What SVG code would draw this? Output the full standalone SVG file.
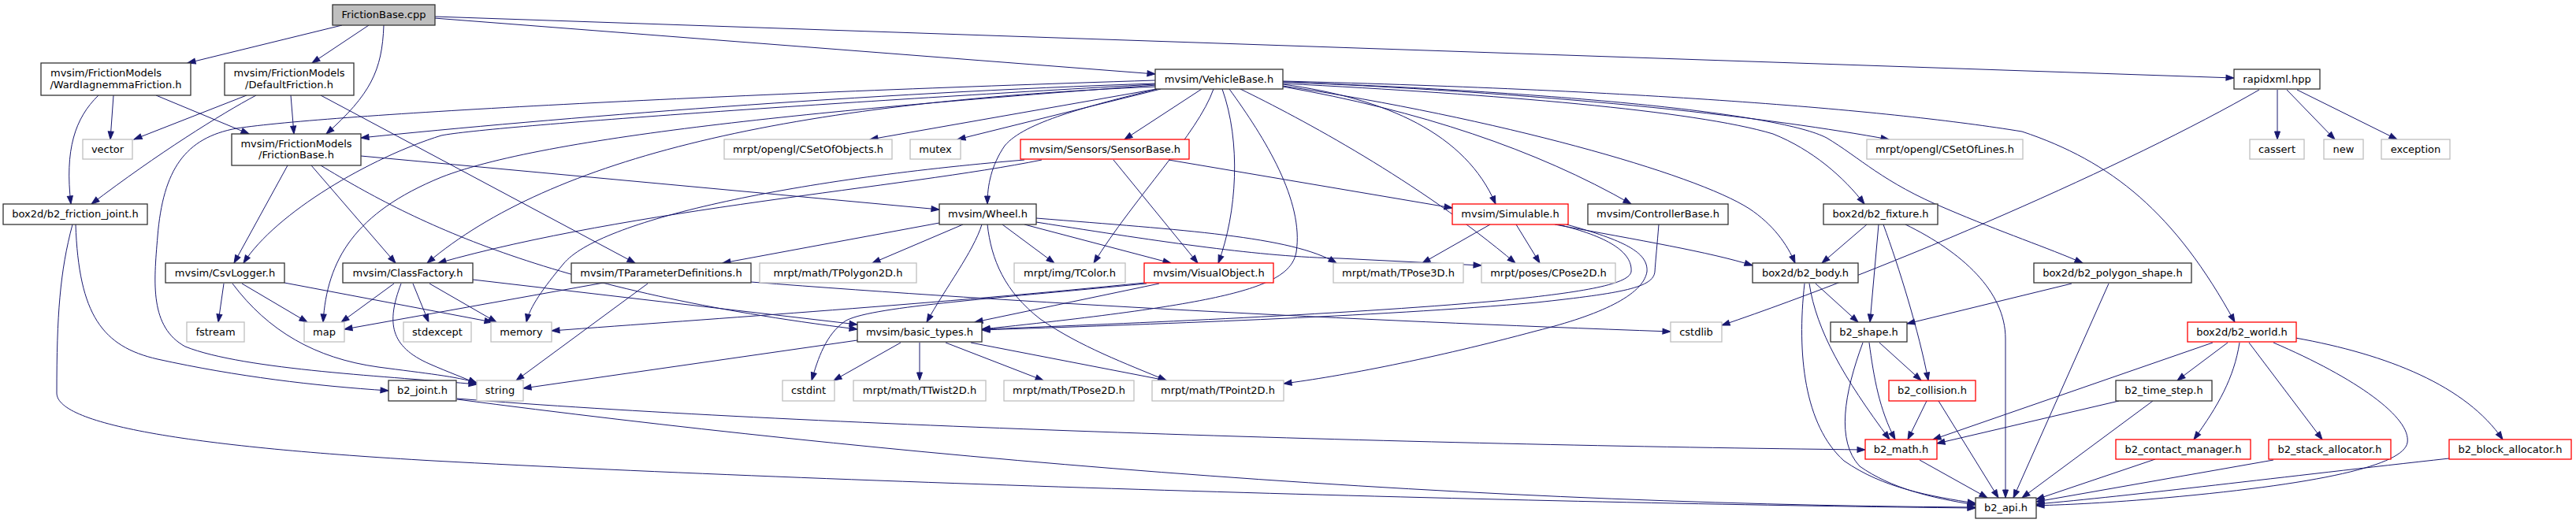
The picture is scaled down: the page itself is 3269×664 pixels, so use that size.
<svg xmlns="http://www.w3.org/2000/svg" width="3269" height="664" viewBox="0 0 3269 664">
<style>
rect{fill:#fff;stroke:#333333;stroke-width:1.3}
.g rect{stroke:#bfbfbf}
.r rect{stroke:#ff0000}
.root rect{fill:#bfbfbf;stroke:#333333}
text{font-family:"DejaVu Sans","Liberation Sans",sans-serif;font-size:13px;fill:#000;text-anchor:middle}
#edges path{fill:none;stroke:#191970;stroke-width:1;marker-end:url(#ah)}
</style>
<defs>
<marker id="ah" markerUnits="userSpaceOnUse" markerWidth="11" markerHeight="8" refX="10" refY="3.5" orient="auto" viewBox="0 0 11 8" overflow="visible">
<path d="M0,0 L10,3.5 L0,7 z" fill="#191970" stroke="#191970" stroke-width="1"/>
</marker>
</defs>
<g id="edges">
<path d="M434,32 L238,80"/>
<path d="M468,32 L396,80"/>
<path d="M487,32 C485,90 470,120 414,170"/>
<path d="M551,23 L1466,94"/>
<path d="M551,21 L2835,99"/>
<path d="M125,121 C95,150 82,190 90,259"/>
<path d="M144,121 L140,177"/>
<path d="M198,121 L316,170"/>
<path d="M313,121 L170,177"/>
<path d="M325,121 C280,145 200,195 116,259"/>
<path d="M369,121 L373,170"/>
<path d="M407,121 L806,334"/>
<path d="M365,210 L297,334"/>
<path d="M395,210 L502,334"/>
<path d="M407,210 C530,285 700,370 1088,418"/>
<path d="M458,198 L1192,266"/>
<path d="M96,285 C100,400 130,440 200,456 C300,478 400,490 493,496"/>
<path d="M92,285 C76,345 72,400 72,499 C72,540 250,568 550,585 C1100,615 2000,640 2507,645"/>
<path d="M284,360 L277,409"/>
<path d="M307,360 L390,409"/>
<path d="M361,359 L625,409"/>
<path d="M295,360 C340,420 400,455 480,466 C540,474 580,478 605,486"/>
<path d="M500,360 L433,409"/>
<path d="M524,360 L544,409"/>
<path d="M509,360 C490,410 495,440 545,462 C570,473 590,480 605,487"/>
<path d="M545,360 L630,409"/>
<path d="M600,355 L1088,412"/>
<path d="M766,359 L437,418"/>
<path d="M822,360 L655,483"/>
<path d="M953,358 C1300,385 1700,406 2120,421"/>
<path d="M1088,432 L664,493"/>
<path d="M1143,435 L1058,483"/>
<path d="M1167,435 L1167,483"/>
<path d="M1200,435 L1324,483"/>
<path d="M1232,435 L1480,483"/>
<path d="M1468,113 L1104,177"/>
<path d="M1473,113 L1215,177"/>
<path d="M1525,113 L1427,177"/>
<path d="M1468,113 C1380,135 1300,155 1275,185 C1258,210 1253,235 1253,259"/>
<path d="M1540,113 C1520,170 1440,250 1388,334"/>
<path d="M1551,113 C1575,180 1570,270 1546,334"/>
<path d="M1560,113 C1605,175 1655,255 1645,320 C1637,365 1560,385 1246,418"/>
<path d="M1977,285 C2040,300 2072,320 2070,345 C2067,362 2000,372 1900,382 C1700,400 1400,412 1246,418"/>
<path d="M2105,285 C2103,310 2101,330 2100,345 C2098,365 2060,372 1950,384 C1750,402 1450,412 1246,419"/>
<path d="M1988,285 C2060,305 2092,320 2090,345 C2085,375 2030,400 1950,420 C1820,455 1700,478 1629,487"/>
<path d="M1192,283 L917,334"/>
<path d="M1222,285 L1107,334"/>
<path d="M1246,285 C1235,320 1200,365 1176,409"/>
<path d="M1253,285 C1258,330 1275,370 1320,405 C1370,440 1430,462 1480,483"/>
<path d="M1272,285 L1338,334"/>
<path d="M1300,285 L1486,334"/>
<path d="M1315,277 C1500,292 1640,300 1696,334"/>
<path d="M1315,282 C1480,308 1600,326 1700,328 L1880,337"/>
<path d="M1300,203 C1000,228 760,280 715,335 C690,365 672,390 668,409"/>
<path d="M1322,203 C1150,238 800,265 556,334"/>
<path d="M1413,203 L1520,334"/>
<path d="M1483,203 L1843,264"/>
<path d="M1452,359 C1200,385 900,405 700,420"/>
<path d="M1455,360 C1250,380 1100,390 1072,408 C1048,425 1038,455 1030,483"/>
<path d="M1471,360 L1237,409"/>
<path d="M1466,106 C1100,118 700,150 458,175"/>
<path d="M1466,102 C900,120 420,145 300,163 C235,175 207,215 200,300 C195,360 190,415 235,440 C310,470 500,478 605,488"/>
<path d="M1466,107 C1100,127 620,160 560,172 C470,200 350,270 309,334"/>
<path d="M1468,108 C1100,135 700,170 560,225 C450,270 415,330 410,409"/>
<path d="M1467,110 C1000,130 700,200 542,334"/>
<path d="M1628,107 C1760,125 1860,170 1898,259"/>
<path d="M1628,110 C1800,140 1950,190 2070,259"/>
<path d="M1574,113 C1650,150 1800,230 1923,334"/>
<path d="M1628,109 C1900,150 2150,220 2220,265 C2250,285 2268,310 2278,334"/>
<path d="M1628,104 C2000,120 2250,150 2397,177"/>
<path d="M1628,106 C1900,120 2150,140 2250,170 C2300,190 2340,225 2366,259"/>
<path d="M1628,104 C2000,118 2260,145 2318,175 C2360,200 2390,232 2470,265 C2540,295 2600,315 2643,334"/>
<path d="M1628,103 C2100,115 2400,140 2566,167 C2680,205 2760,270 2836,409"/>
<path d="M1891,285 L1805,334"/>
<path d="M1924,285 L1954,334"/>
<path d="M1973,285 C2080,305 2170,320 2224,337"/>
<path d="M2369,285 L2312,334"/>
<path d="M2384,285 L2373,409"/>
<path d="M2390,285 C2410,340 2435,420 2447,483"/>
<path d="M2418,285 C2490,320 2545,370 2545,430 L2545,632"/>
<path d="M2304,360 L2358,409"/>
<path d="M2290,360 C2280,450 2290,540 2340,585 C2390,620 2450,630 2507,639"/>
<path d="M2296,360 C2305,420 2340,480 2398,558"/>
<path d="M2385,435 L2438,483"/>
<path d="M2364,435 C2340,500 2330,560 2360,592 C2400,620 2450,632 2507,641"/>
<path d="M2372,435 C2378,480 2385,520 2405,558"/>
<path d="M2445,509 L2421,558"/>
<path d="M2460,509 L2536,632"/>
<path d="M2436,584 L2522,632"/>
<path d="M2629,360 L2420,411"/>
<path d="M2676,360 L2555,632"/>
<path d="M2808,435 L2453,558"/>
<path d="M2827,435 L2763,483"/>
<path d="M2842,435 C2835,480 2815,515 2784,558"/>
<path d="M2854,435 L2947,558"/>
<path d="M2885,435 C2990,480 3060,530 3055,562 C3050,590 2950,615 2725,634 C2650,640 2610,641 2584,642"/>
<path d="M2913,429 C3030,450 3130,490 3176,558"/>
<path d="M2689,509 L2458,563"/>
<path d="M2732,509 L2566,632"/>
<path d="M2735,583 L2584,634"/>
<path d="M2885,584 L2584,637"/>
<path d="M3108,582 C2900,605 2700,630 2584,640"/>
<path d="M580,506 C1000,540 1800,565 2367,571"/>
<path d="M580,507 C1100,575 1800,640 2507,644"/>
<path d="M2890,114 L2890,177"/>
<path d="M2902,114 L2963,177"/>
<path d="M2915,114 L3042,177"/>
<path d="M2867,114 C2700,210 2400,340 2185,413"/>
</g>
<g id="n_root" class="root"><rect x="422" y="6" width="130" height="26"/><text x="487" y="23">FrictionBase.cpp</text></g>
<g id="n_ward"><rect x="52" y="80" width="190" height="41"/><text x="64" y="97" style="text-anchor:start">mvsim/FrictionModels</text><text x="147" y="111.5">/WardIagnemmaFriction.h</text></g>
<g id="n_default"><rect x="285" y="80" width="164" height="41"/><text x="367" y="97">mvsim/FrictionModels</text><text x="367" y="111.5">/DefaultFriction.h</text></g>
<g id="n_vector" class="g"><rect x="105" y="177" width="63" height="25"/><text x="136.5" y="193.5">vector</text></g>
<g id="n_fbase_h"><rect x="294" y="170" width="164" height="40"/><text x="376" y="186.5">mvsim/FrictionModels</text><text x="376" y="201">/FrictionBase.h</text></g>
<g id="n_fjoint"><rect x="4" y="259" width="183" height="26"/><text x="95.5" y="276">box2d/b2_friction_joint.h</text></g>
<g id="n_csv"><rect x="210" y="334" width="151" height="25"/><text x="285.5" y="350.5">mvsim/CsvLogger.h</text></g>
<g id="n_classf"><rect x="435" y="334" width="165" height="25"/><text x="517.5" y="350.5">mvsim/ClassFactory.h</text></g>
<g id="n_fstream" class="g"><rect x="237" y="409" width="73" height="25"/><text x="273.5" y="425.5">fstream</text></g>
<g id="n_map" class="g"><rect x="386" y="409" width="51" height="25"/><text x="411.5" y="425.5">map</text></g>
<g id="n_stdexcept" class="g"><rect x="512" y="409" width="86" height="25"/><text x="555" y="425.5">stdexcept</text></g>
<g id="n_b2joint"><rect x="493" y="483" width="86" height="26"/><text x="536" y="500">b2_joint.h</text></g>
<g id="n_memory" class="g"><rect x="623" y="409" width="77" height="25"/><text x="661.5" y="425.5">memory</text></g>
<g id="n_string" class="g"><rect x="605" y="483" width="59" height="26"/><text x="634.5" y="500">string</text></g>
<g id="n_tparam"><rect x="725" y="334" width="228" height="25"/><text x="839" y="350.5">mvsim/TParameterDefinitions.h</text></g>
<g id="n_tpoly" class="g"><rect x="964" y="334" width="199" height="25"/><text x="1063.5" y="350.5">mrpt/math/TPolygon2D.h</text></g>
<g id="n_cstdint" class="g"><rect x="993" y="483" width="66" height="26"/><text x="1026" y="500">cstdint</text></g>
<g id="n_basic"><rect x="1088" y="409" width="158" height="25"/><text x="1167" y="425.5">mvsim/basic_types.h</text></g>
<g id="n_ttwist" class="g"><rect x="1083" y="483" width="168" height="26"/><text x="1167" y="500">mrpt/math/TTwist2D.h</text></g>
<g id="n_tcolor" class="g"><rect x="1287" y="334" width="141" height="25"/><text x="1357.5" y="350.5">mrpt/img/TColor.h</text></g>
<g id="n_visual" class="r"><rect x="1452" y="334" width="164" height="25"/><text x="1534" y="350.5">mvsim/VisualObject.h</text></g>
<g id="n_tpose2d" class="g"><rect x="1274" y="483" width="165" height="26"/><text x="1356.5" y="500">mrpt/math/TPose2D.h</text></g>
<g id="n_tpoint2d" class="g"><rect x="1462" y="483" width="167" height="26"/><text x="1545.5" y="500">mrpt/math/TPoint2D.h</text></g>
<g id="n_csetobj" class="g"><rect x="919" y="177" width="213" height="25"/><text x="1025.5" y="193.5">mrpt/opengl/CSetOfObjects.h</text></g>
<g id="n_vehicle"><rect x="1466" y="88" width="162" height="25"/><text x="1547" y="104.5">mvsim/VehicleBase.h</text></g>
<g id="n_mutex" class="g"><rect x="1155" y="177" width="64" height="25"/><text x="1187" y="193.5">mutex</text></g>
<g id="n_sensor" class="r"><rect x="1295" y="177" width="214" height="25"/><text x="1402" y="193.5">mvsim/Sensors/SensorBase.h</text></g>
<g id="n_wheel"><rect x="1192" y="259" width="123" height="26"/><text x="1253.5" y="276">mvsim/Wheel.h</text></g>
<g id="n_simulable" class="r"><rect x="1843" y="259" width="147" height="26"/><text x="1916.5" y="276">mvsim/Simulable.h</text></g>
<g id="n_controller"><rect x="2015" y="259" width="178" height="26"/><text x="2104" y="276">mvsim/ControllerBase.h</text></g>
<g id="n_tpose3d" class="g"><rect x="1692" y="334" width="165" height="25"/><text x="1774.5" y="350.5">mrpt/math/TPose3D.h</text></g>
<g id="n_cpose2d" class="g"><rect x="1880" y="334" width="170" height="25"/><text x="1965" y="350.5">mrpt/poses/CPose2D.h</text></g>
<g id="n_cstdlib" class="g"><rect x="2120" y="409" width="65" height="25"/><text x="2152.5" y="425.5">cstdlib</text></g>
<g id="n_csetlines" class="g"><rect x="2369" y="177" width="198" height="25"/><text x="2468" y="193.5">mrpt/opengl/CSetOfLines.h</text></g>
<g id="n_fixture"><rect x="2314" y="259" width="145" height="26"/><text x="2386.5" y="276">box2d/b2_fixture.h</text></g>
<g id="n_body"><rect x="2224" y="334" width="134" height="25"/><text x="2291" y="350.5">box2d/b2_body.h</text></g>
<g id="n_polygon"><rect x="2581" y="334" width="200" height="25"/><text x="2681" y="350.5">box2d/b2_polygon_shape.h</text></g>
<g id="n_shape"><rect x="2323" y="409" width="97" height="25"/><text x="2371.5" y="425.5">b2_shape.h</text></g>
<g id="n_collision" class="r"><rect x="2397" y="483" width="110" height="26"/><text x="2452" y="500">b2_collision.h</text></g>
<g id="n_math" class="r"><rect x="2367" y="558" width="91" height="25"/><text x="2412.5" y="574.5">b2_math.h</text></g>
<g id="n_api"><rect x="2507" y="632" width="77" height="26"/><text x="2545.5" y="649">b2_api.h</text></g>
<g id="n_timestep"><rect x="2685" y="483" width="122" height="26"/><text x="2746" y="500">b2_time_step.h</text></g>
<g id="n_contact" class="r"><rect x="2685" y="558" width="171" height="25"/><text x="2770.5" y="574.5">b2_contact_manager.h</text></g>
<g id="n_rapidxml"><rect x="2835" y="88" width="109" height="25"/><text x="2889.5" y="104.5">rapidxml.hpp</text></g>
<g id="n_cassert" class="g"><rect x="2855" y="177" width="69" height="25"/><text x="2889.5" y="193.5">cassert</text></g>
<g id="n_new" class="g"><rect x="2949" y="177" width="50" height="25"/><text x="2974" y="193.5">new</text></g>
<g id="n_exception" class="g"><rect x="3022" y="177" width="87" height="25"/><text x="3065.5" y="193.5">exception</text></g>
<g id="n_world" class="r"><rect x="2776" y="409" width="138" height="25"/><text x="2845" y="425.5">box2d/b2_world.h</text></g>
<g id="n_stack" class="r"><rect x="2879" y="558" width="155" height="25"/><text x="2956.5" y="574.5">b2_stack_allocator.h</text></g>
<g id="n_block" class="r"><rect x="3108" y="558" width="155" height="25"/><text x="3185.5" y="574.5">b2_block_allocator.h</text></g>
</svg>
